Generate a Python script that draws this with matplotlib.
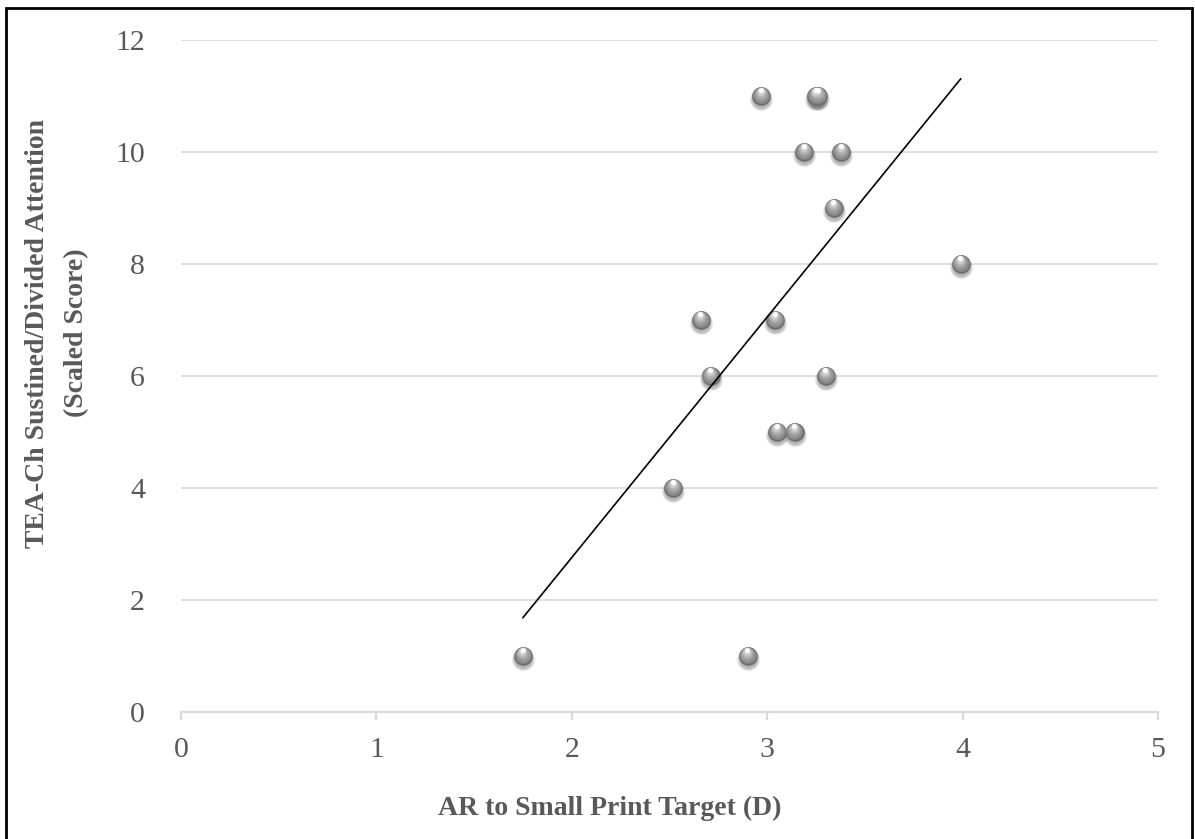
import numpy as np
import matplotlib
matplotlib.use("Agg")
import matplotlib.pyplot as plt
from matplotlib.transforms import offset_copy
from matplotlib.patches import Rectangle

# ---- data ----
ar_small_print = [1.75, 2.90, 2.52, 2.66, 2.71, 2.97, 3.04, 3.05, 3.14, 3.19,
                  3.25, 3.26, 3.30, 3.34, 3.38, 3.99]
tea_ch_score = [1, 1, 4, 7, 6, 11, 7, 5, 5, 10, 11, 11, 6, 9, 10, 8]
trend_x = [1.75, 3.99]
trend_y = [1.68, 11.30]
x_ticks = [0, 1, 2, 3, 4, 5]
y_ticks = [0, 2, 4, 6, 8, 10, 12]
x_label = "AR to Small Print Target (D)"
y_label = "TEA-Ch Sustined/Divided Attention\n(Scaled Score)"

W, H, DPI = 1195, 839, 100
fig = plt.figure(figsize=(W / DPI, H / DPI), dpi=DPI)
fig.patch.set_facecolor("white")
ax = fig.add_axes([181 / W, 1 - 711.7 / H, (1158 - 181) / W, (711.7 - 39.7) / H])

text_col = "#595959"
grid_col = "#d9d9d9"
font = "Liberation Serif"
fs_tick = 21.5
fs_lab = 20

ax.set_xlim(0, 5)
ax.set_ylim(0, 12)
ax.set_xticks(x_ticks)
ax.set_yticks(y_ticks)
ax.set_xticklabels([str(t) for t in x_ticks], fontfamily=font, fontsize=fs_tick, color=text_col)
ax.set_yticklabels([str(t) for t in y_ticks], fontfamily=font, fontsize=fs_tick, color=text_col)
for s in ["left", "right", "top"]:
    ax.spines[s].set_visible(False)
ax.spines["bottom"].set_color(grid_col)
ax.spines["bottom"].set_linewidth(1.6)
ax.spines["bottom"].set_zorder(1)
ax.tick_params(axis="x", length=6, width=1.6, color=grid_col, pad=12)
ax.tick_params(axis="y", length=0, pad=26)
ax.grid(axis="y", color=grid_col, linewidth=1.2, zorder=0)
ax.set_axisbelow(True)

x = np.array(ar_small_print)
y = np.array(tea_ch_score)
D = 13.5  # marker diameter in points

# shadow
for i in range(6):
    tr = offset_copy(ax.transData, fig=fig, x=0, y=-2.2, units="points")
    ax.scatter(x, y, s=(D * (1.25 - 0.06 * i)) ** 2, color="#000000", alpha=0.05,
               linewidths=0, transform=tr, zorder=2)

# sphere body with gradient
ax.scatter(x, y, s=D ** 2, color="#6f6f6f", linewidths=0, zorder=3)
n = 14
c0 = np.array([0x80, 0x80, 0x80]) / 255
c1 = np.array([0xe6, 0xe6, 0xe6]) / 255
for k in range(1, n + 1):
    t = k / n
    d = D * (1 - 0.8 * t) * 0.95
    off = 0.28 * D * t
    col = c0 + (c1 - c0) * t ** 1.3
    tr = offset_copy(ax.transData, fig=fig, x=-0.05 * D * t, y=off, units="points")
    ax.scatter(x, y, s=d ** 2, color=col, linewidths=0, transform=tr, zorder=3 + k * 0.01)
# specular highlight
tr = offset_copy(ax.transData, fig=fig, x=-0.3, y=0.33 * D, units="points")
ax.scatter(x, y, s=(D * 0.28) ** 2, color="white", alpha=0.9, linewidths=0,
           transform=tr, zorder=3.5)

# trend line
ax.plot(trend_x, trend_y, color="black", linewidth=1.2, zorder=5)

# axis titles
fig.text(610 / W, 1 - 808 / H, x_label, fontfamily=font, fontsize=fs_lab, fontweight="bold",
         color=text_col, ha="center", va="center")
fig.text(57 / W, 1 - 333 / H, y_label, fontfamily=font, fontsize=fs_lab, fontweight="bold",
         color=text_col, ha="center", va="center", rotation=90, linespacing=1.7,
         multialignment="center")

# outer frame (bottom edge lies outside the image)
fig.patches.append(Rectangle((6 / W, -20 / H), (1192 - 6) / W, (831 + 20) / H,
                             transform=fig.transFigure, fill=False,
                             edgecolor="black", linewidth=2, clip_on=False))

fig.savefig("out.png", dpi=DPI)
